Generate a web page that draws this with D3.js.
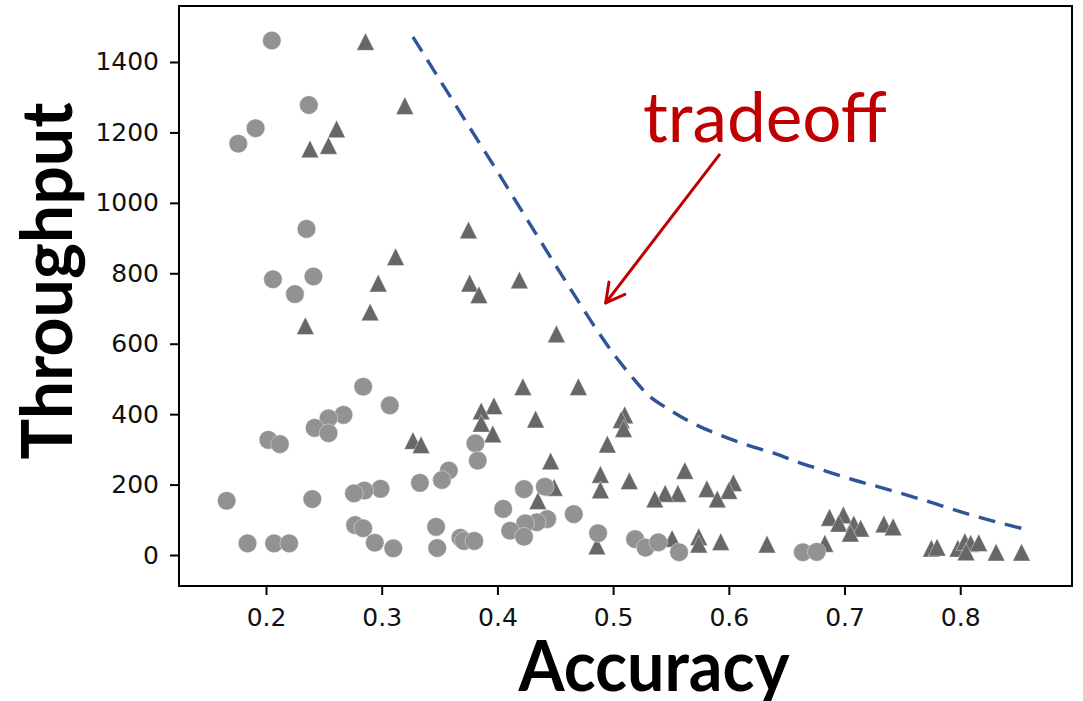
<!DOCTYPE html>
<html>
<head>
    <meta charset="utf-8">
    <script src="https://d3js.org/d3.v7.min.js"></script>
    <style>
        body { margin: 0; background: #fff; }
        svg { display: block; }
    </style>
</head>
<body>
    <svg width="1083" height="701"></svg>

    <script>
        // ---- data ----
        // light grey circles
        var circleAcc = [0.205, 0.237, 0.191, 0.176, 0.235, 0.206, 0.241, 0.225, 0.284, 0.307,
            0.267, 0.254, 0.242, 0.254, 0.202, 0.212, 0.381, 0.383, 0.358, 0.352,
            0.333, 0.299, 0.285, 0.276, 0.240, 0.166, 0.347, 0.277, 0.284, 0.294,
            0.310, 0.348, 0.368, 0.371, 0.380, 0.184, 0.207, 0.220, 0.423, 0.441,
            0.405, 0.466, 0.443, 0.434, 0.424, 0.411, 0.423, 0.487, 0.519, 0.528,
            0.539, 0.557, 0.664, 0.676];
        var circleThr = [1461, 1278, 1212, 1168, 926, 783, 791, 741, 478, 425,
            398, 388, 361, 346, 327, 315, 317, 268, 240, 213,
            205, 188, 183, 175, 159, 154, 80, 85, 76, 35,
            19, 20, 49, 40, 40, 33, 33, 33, 187, 194,
            131, 116, 102, 93, 90, 69, 52, 62, 45, 21,
            36, 8, 8, 9];

        // dark grey triangles
        var triAcc = [0.286, 0.320, 0.261, 0.238, 0.254, 0.375, 0.312, 0.297, 0.234, 0.290,
            0.376, 0.384, 0.419, 0.451, 0.327, 0.334, 0.422, 0.470, 0.397, 0.386,
            0.386, 0.433, 0.396, 0.510, 0.507, 0.509, 0.495, 0.446, 0.562, 0.489,
            0.514, 0.449, 0.489, 0.604, 0.600, 0.581, 0.556, 0.545, 0.536, 0.590,
            0.435, 0.486, 0.551, 0.574, 0.574, 0.593, 0.633, 0.683, 0.687, 0.699,
            0.695, 0.708, 0.714, 0.705, 0.734, 0.742, 0.775, 0.780, 0.798, 0.804,
            0.809, 0.816, 0.805, 0.831, 0.853];
        var triThr = [1458, 1276, 1210, 1153, 1163, 923, 847, 772, 651, 690,
            772, 739, 781, 628, 325, 313, 478, 478, 424, 409,
            374, 386, 344, 398, 384, 359, 315, 267, 240, 229,
            211, 192, 185, 205, 183, 188, 175, 175, 159, 159,
            154, 26, 47, 52, 31, 38, 31, 33, 107, 114,
            90, 88, 76, 62, 88, 80, 19, 22, 19, 38,
            33, 35, 9, 8, 8];

        // dashed tradeoff frontier
        var frontAcc = [0.327, 0.372, 0.400, 0.460, 0.486, 0.500, 0.515, 0.530, 0.549, 0.569,
            0.592, 0.616, 0.639, 0.662, 0.685, 0.708, 0.731, 0.754, 0.777, 0.800,
            0.823, 0.854];
        var frontThr = [1471, 1235, 1089, 772, 639, 573, 511, 455, 412, 374,
            341, 312, 289, 261, 237, 213, 192, 170, 147, 123,
            101, 75];

        var xTicks = [0.2, 0.3, 0.4, 0.5, 0.6, 0.7, 0.8];
        var yTicks = [0, 200, 400, 600, 800, 1000, 1200, 1400];

        // ---- layout ----
        var svg = d3.select("svg");
        var plotL = 179, plotR = 1072, plotT = 6, plotB = 586;

        var x = d3.scaleLinear().domain([0.1248, 0.8966]).range([plotL, plotR]);
        var y = d3.scaleLinear().domain([-88, 1559]).range([plotB, plotT]);

        var tickFont = "'DejaVu Sans', sans-serif";

        // X axis
        var gx = svg.append("g")
            .attr("transform", "translate(0," + plotB + ")")
            .call(d3.axisBottom(x).tickValues(xTicks).tickSize(9).tickPadding(13)
                .tickFormat(d3.format(".1f")));
        gx.select(".domain").remove();

        // Y axis
        var gy = svg.append("g")
            .attr("transform", "translate(" + plotL + ",0)")
            .call(d3.axisLeft(y).tickValues(yTicks).tickSize(9).tickPadding(11)
                .tickFormat(d3.format("d")));
        gy.select(".domain").remove();

        svg.selectAll(".tick line").attr("stroke", "#000").attr("stroke-width", 2);
        svg.selectAll(".tick text")
            .attr("fill", "#111")
            .style("font-family", tickFont)
            .style("font-size", "25px");

        // triangles first, circles on top
        var triSize = 17.6; // base width in px
        svg.append("g").selectAll("path")
            .data(triAcc)
            .enter().append("path")
            .attr("transform", function (d, i) { return "translate(" + x(d) + "," + y(triThr[i]) + ")"; })
            .attr("d", function () {
                var h = triSize / 2;
                return "M0," + (-h) + "L" + h + "," + h + "L" + (-h) + "," + h + "Z";
            })
            .attr("fill", "#676767")
            .attr("stroke", "#fff")
            .attr("stroke-width", 0.4);

        svg.append("g").selectAll("circle")
            .data(circleAcc)
            .enter().append("circle")
            .attr("cx", function (d) { return x(d); })
            .attr("cy", function (d, i) { return y(circleThr[i]); })
            .attr("r", 9.3)
            .attr("fill", "#929292")
            .attr("stroke", "#fff")
            .attr("stroke-width", 0.4);

        // dashed frontier
        var frontier = d3.line()
            .x(function (d) { return x(d); })
            .y(function (d, i) { return y(frontThr[i]); })
            .curve(d3.curveMonotoneX);

        svg.append("path")
            .datum(frontAcc)
            .attr("d", frontier)
            .attr("fill", "none")
            .attr("stroke", "#2f5597")
            .attr("stroke-width", 3.4)
            .attr("stroke-dasharray", "17,10");

        // frame
        svg.append("rect")
            .attr("x", plotL).attr("y", plotT)
            .attr("width", plotR - plotL).attr("height", plotB - plotT)
            .attr("fill", "none")
            .attr("stroke", "#000")
            .attr("stroke-width", 2);

        // annotation: text + open arrow
        var red = "#c00000";
        svg.append("text")
            .attr("x", x(0.5258)).attr("y", y(1173))
            .attr("textLength", 244)
            .attr("lengthAdjust", "spacingAndGlyphs")
            .style("font-family", "Lato, 'Open Sans', sans-serif")
            .style("font-size", "70px")
            .attr("fill", red)
            .text("tradeoff");

        var ax0 = x(0.5924), ay0 = y(1139), ax1 = x(0.4936), ay1 = y(716);
        svg.append("line")
            .attr("x1", ax0).attr("y1", ay0).attr("x2", ax1).attr("y2", ay1)
            .attr("stroke", red).attr("stroke-width", 3);
        var ang = Math.atan2(ay0 - ay1, ax0 - ax1);
        [-0.5, 0.5].forEach(function (a) {
            svg.append("line")
                .attr("x1", ax1).attr("y1", ay1)
                .attr("x2", ax1 + 21 * Math.cos(ang + a))
                .attr("y2", ay1 + 21 * Math.sin(ang + a))
                .attr("stroke", red).attr("stroke-width", 3)
                .attr("stroke-linecap", "round");
        });

        // axis labels
        svg.append("text")
            .attr("x", 654).attr("y", 691)
            .attr("text-anchor", "middle")
            .attr("textLength", 271)
            .attr("lengthAdjust", "spacingAndGlyphs")
            .style("font-family", "Lato, sans-serif")
            .style("font-weight", "bold")
            .style("font-size", "70px")
            .text("Accuracy");

        svg.append("text")
            .attr("transform", "translate(72,281) rotate(-90)")
            .attr("text-anchor", "middle")
            .attr("textLength", 357)
            .attr("lengthAdjust", "spacingAndGlyphs")
            .style("font-family", "Lato, sans-serif")
            .style("font-weight", "bold")
            .style("font-size", "70px")
            .text("Throughput");
    </script>
</body>
</html>
